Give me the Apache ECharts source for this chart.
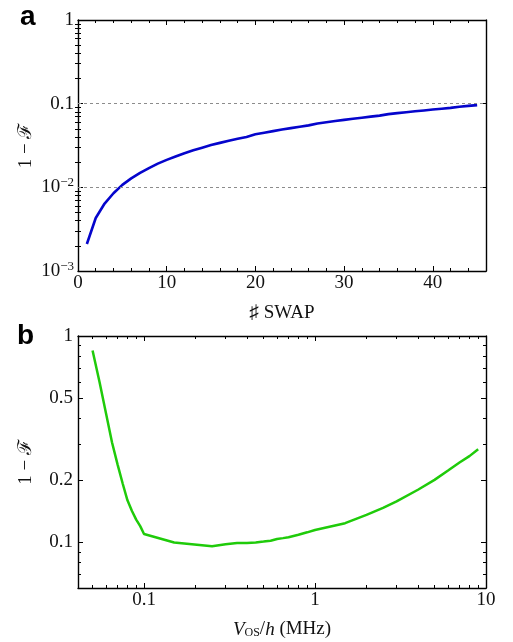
<!DOCTYPE html>
<html>
<head>
<meta charset="utf-8">
<script src="https://cdn.jsdelivr.net/npm/echarts@6/dist/echarts.min.js"></script>
<style>
  html, body { margin: 0; padding: 0; background: #fff; }
  #chart { width: 513px; height: 642px; }
</style>
</head>
<body>
<div id="chart"></div>
<script>
// panel a: infidelity after N SWAP gates
const swapCount = [1, 2, 3, 4, 5, 6, 7, 8, 9, 10, 11, 12, 13, 14, 15, 16, 17, 18, 19, 20, 21, 22, 23,
  24, 25, 26, 27, 28, 29, 30, 31, 32, 33, 34, 35, 36, 37, 38, 39, 40, 41, 42, 43, 44, 45]
const swapInfidelity = [0.0021, 0.0043, 0.0064, 0.0085, 0.0107, 0.0128, 0.0149, 0.017, 0.0192, 0.0213,
  0.0234, 0.0256, 0.0277, 0.0298, 0.032, 0.034, 0.036, 0.038, 0.040, 0.043, 0.045, 0.047, 0.049,
  0.051, 0.053, 0.055, 0.058, 0.060, 0.062, 0.064, 0.066, 0.068, 0.070, 0.072, 0.075, 0.077, 0.079,
  0.081, 0.083, 0.085, 0.087, 0.089, 0.092, 0.094, 0.096]
const swapTicksX = [0, 10, 20, 30, 40]
const swapMinorX = [2, 4, 6, 8, 12, 14, 16, 18, 22, 24, 26, 28, 32, 34, 36, 38, 42, 44]
const swapTicksY = [1, 0.1, 0.01, 0.001]
const swapMinorY = [0.002, 0.003, 0.004, 0.005, 0.006, 0.007, 0.008, 0.009,
  0.02, 0.03, 0.04, 0.05, 0.06, 0.07, 0.08, 0.09,
  0.2, 0.3, 0.4, 0.5, 0.6, 0.7, 0.8, 0.9]
const swapGuides = [0.1, 0.01]

// panel b: infidelity vs offset frequency V_OS/h (MHz)
const offsetFreq = [0.05, 0.055, 0.06, 0.065, 0.07, 0.075, 0.08, 0.085, 0.09, 0.095, 0.1, 0.15, 0.25,
  0.3, 0.35, 0.4, 0.45, 0.5, 0.55, 0.6, 0.65, 0.7, 0.8, 0.9, 1, 1.5, 2, 2.5, 3, 4, 5, 6, 7, 8, 9]
const offsetInfidelity = [0.85, 0.595, 0.42, 0.305, 0.239, 0.193, 0.160, 0.142, 0.129, 0.120, 0.110,
  0.100, 0.096, 0.098, 0.0995, 0.0995, 0.100, 0.101, 0.102, 0.104, 0.105, 0.106, 0.109, 0.112,
  0.115, 0.124, 0.136, 0.147, 0.158, 0.180, 0.201, 0.223, 0.244, 0.262, 0.283]
const freqTicksX = [0.1, 1, 10]
const freqMinorX = [0.05, 0.06, 0.07, 0.08, 0.09, 0.2, 0.3, 0.4, 0.5, 0.6, 0.7, 0.8, 0.9,
  2, 3, 4, 5, 6, 7, 8, 9]
const freqTicksY = [1, 0.5, 0.2, 0.1]
const freqMinorY = [0.9, 0.8, 0.7, 0.6, 0.4, 0.3, 0.09, 0.08, 0.07, 0.06]

const serif = "'Liberation Serif', 'DejaVu Serif', serif"
const sans = "'Liberation Sans', Arial, sans-serif"
const ink = '#111'

// 一个坐标轴 (边框 + 内向刻度)
const mkAxis = (opts) => Object.assign({
  axisLine: { show: true, onZero: false, lineStyle: { color: '#000', width: 1.4 } },
  axisTick: { show: true, inside: true, length: 5, lineStyle: { color: '#000', width: 1 } },
  axisLabel: { show: false },
  splitLine: { show: false },
  minorTick: { show: false }
}, opts)

// 每个方向 4 根轴: 两侧主刻度 + 两侧次刻度
const axisSet = (grid, sides, base, major, minor, labelOpts, nameOpts) => {
  const list = []
  sides.forEach((pos, i) => {
    list.push(mkAxis(Object.assign({
      gridIndex: grid,
      position: pos,
      axisTick: { show: true, inside: true, length: 5, customValues: major, lineStyle: { color: '#000', width: 1 } },
      axisLabel: i === 0 ? labelOpts : { show: false }
    }, base, i === 0 ? nameOpts : {})))
  })
  sides.forEach((pos) => {
    list.push(mkAxis(Object.assign({
      gridIndex: grid,
      position: pos,
      axisLine: { show: false },
      axisTick: { show: true, inside: true, length: 3, customValues: minor, lineStyle: { color: '#000', width: 1 } }
    }, base)))
  })
  return list
}

const numLabel = (v) => String(+v.toPrecision(3))
const powLabel = (v) => {
  if (v > 0.05) return numLabel(v)
  const e = Math.round(Math.log10(v))
  return '{b|10}{s|\u2212' + Math.abs(e) + '}'
}

const labelBase = { show: true, color: ink, fontFamily: serif, fontSize: 19 }
const nameStyle = { color: ink, fontFamily: serif, fontSize: 19 }

const xAxes = [].concat(
  axisSet(0, ['bottom', 'top'], { type: 'value', min: 0, max: 46 }, swapTicksX, swapMinorX,
    Object.assign({}, labelBase, { margin: 3, customValues: swapTicksX, formatter: numLabel }),
    { name: '\u266F SWAP', nameLocation: 'middle', nameGap: 33, nameMoveOverlap: false, nameTextStyle: nameStyle }),
  axisSet(1, ['bottom', 'top'], { type: 'log', logBase: 10, min: 0.0411, max: 10 }, freqTicksX, freqMinorX,
    Object.assign({}, labelBase, { margin: 3, customValues: freqTicksX, formatter: numLabel }),
    {
      name: '{i|V}{sub|OS}{n|/}{i|h}{n| (MHz)}', nameLocation: 'middle', nameGap: 32, nameMoveOverlap: false,
      nameTextStyle: Object.assign({}, nameStyle, {
        rich: {
          i: { fontFamily: serif, fontSize: 19, fontStyle: 'italic', color: ink },
          n: { fontFamily: serif, fontSize: 19, color: ink },
          sub: { fontFamily: serif, fontSize: 12, color: ink, verticalAlign: 'bottom', padding: [6, 0, 0, 0] }
        }
      })
    })
)

const yAxes = [].concat(
  axisSet(0, ['left', 'right'], { type: 'log', logBase: 10, min: 0.001, max: 1 }, swapTicksY, swapMinorY,
    Object.assign({}, labelBase, {
      margin: 4, customValues: swapTicksY, formatter: powLabel,
      rich: {
        b: { fontFamily: serif, fontSize: 19, color: ink, lineHeight: 22 },
        s: { fontFamily: serif, fontSize: 13, color: ink, verticalAlign: 'top', lineHeight: 13 }
      }
    }),
    { name: '1 \u2212 \u2131', nameLocation: 'middle', nameRotate: 90, nameGap: 42, nameMoveOverlap: false, nameTextStyle: nameStyle }),
  axisSet(1, ['left', 'right'], { type: 'log', logBase: 10, min: 0.0602, max: 1 }, freqTicksY, freqMinorY,
    Object.assign({}, labelBase, { margin: 5, customValues: freqTicksY, formatter: numLabel }),
    { name: '1 \u2212 \u2131', nameLocation: 'middle', nameRotate: 90, nameGap: 42, nameMoveOverlap: false, nameTextStyle: nameStyle })
)

const chart = echarts.init(document.getElementById('chart'), null, { renderer: 'canvas' })

chart.setOption({
  animation: false,
  backgroundColor: '#fff',
  title: [
    { text: 'a', left: 20, top: 3, padding: 0, textStyle: { fontFamily: sans, fontWeight: 'bold', fontSize: 28, color: '#000' } },
    { text: 'b', left: 17, top: 322, padding: 0, textStyle: { fontFamily: sans, fontWeight: 'bold', fontSize: 28, color: '#000' } }
  ],
  grid: [
    { left: 78, right: 27, top: 20, height: 251, containLabel: false },
    { left: 78, right: 27, top: 336, height: 252, containLabel: false }
  ],
  xAxis: xAxes,
  yAxis: yAxes,
  series: [
    {
      type: 'line',
      xAxisIndex: 0,
      yAxisIndex: 0,
      data: swapCount.map((n, i) => [n, swapInfidelity[i]]),
      showSymbol: false,
      smooth: false,
      lineStyle: { color: '#0505cc', width: 2.6 },
      markLine: {
        silent: true,
        symbol: 'none',
        label: { show: false },
        lineStyle: { color: '#8c8c8c', type: [3, 3], width: 1 },
        data: swapGuides.map((v) => ({ yAxis: v }))
      },
      z: 3
    },
    {
      type: 'line',
      xAxisIndex: 4,
      yAxisIndex: 4,
      data: offsetFreq.map((f, i) => [f, offsetInfidelity[i]]),
      showSymbol: false,
      smooth: false,
      lineStyle: { color: '#1fcb0a', width: 2.5 },
      z: 3
    }
  ]
})
</script>
</body>
</html>
